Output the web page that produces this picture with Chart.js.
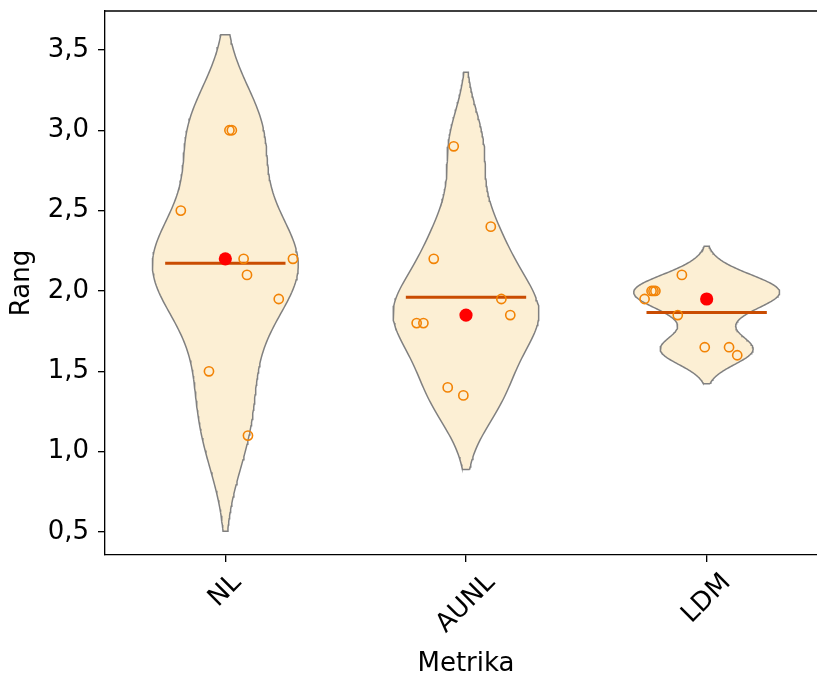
<!DOCTYPE html>
<html>
<head>
<meta charset="utf-8">
<script src="https://cdn.jsdelivr.net/npm/chart.js@4.4.1/dist/chart.umd.min.js"></script>
<style>
  html, body { margin: 0; padding: 0; overflow: hidden; background: #fff; }
  #wrap { width: 817px; height: 677px; overflow: hidden; position: relative; }
  #chart { position: absolute; left: 0; top: 0; }
</style>
</head>
<body>
<div id="wrap"><canvas id="chart" width="837" height="677"></canvas></div>
<script>
// Categories and per-category ranks
const categories = ['NL', 'AUNL', 'LDM'];

const nlValues   = [3.0, 3.0, 2.5, 2.2, 2.2, 2.1, 1.95, 1.5, 1.1];
const aunlValues = [2.9, 2.4, 2.2, 1.95, 1.85, 1.8, 1.8, 1.4, 1.35];
const ldmValues  = [2.1, 2.0, 2.0, 2.0, 1.95, 1.85, 1.65, 1.65, 1.6];

// Horizontal jitter of the individual points (in category units)
const nlJitter   = [0.017, 0.027, -0.185, 0.076, 0.281, 0.090, 0.222, -0.068, 0.094];
const aunlJitter = [-0.051, 0.103, -0.134, 0.147, 0.184, -0.205, -0.177, -0.076, -0.011];
const ldmJitter  = [-0.103, -0.229, -0.221, -0.213, -0.258, -0.120, -0.008, 0.093, 0.127];

const yTicks = [0.5, 1.0, 1.5, 2.0, 2.5, 3.0, 3.5];

const groups = [
  { values: nlValues, jitter: nlJitter },
  { values: aunlValues, jitter: aunlJitter },
  { values: ldmValues, jitter: ldmJitter }
];

// Violin / KDE settings
const BW_FACTOR = 0.475;   // bandwidth as a fraction of the sample std
const CUT = 2;             // extend the density this many bandwidths past the data
const HALF_WIDTH = 0.303;  // widest half-width of each violin
const MEAN_HALF = 0.25;    // half-length of the mean bar

const FONT = 'DejaVu Sans';
const FONT_SIZE = 26;

const mean = v => v.reduce((a, b) => a + b, 0) / v.length;
const median = v => {
  const s = [...v].sort((a, b) => a - b);
  const m = Math.floor(s.length / 2);
  return s.length % 2 ? s[m] : (s[m - 1] + s[m]) / 2;
};

function violinOutline(values, center) {
  const n = values.length;
  const mu = mean(values);
  const sd = Math.sqrt(values.reduce((a, v) => a + (v - mu) ** 2, 0) / (n - 1));
  const bw = BW_FACTOR * sd;
  const lo = Math.min(...values) - CUT * bw;
  const hi = Math.max(...values) + CUT * bw;
  const steps = 160;
  const ys = [], dens = [];
  for (let k = 0; k <= steps; k++) {
    const y = lo + (hi - lo) * k / steps;
    ys.push(y);
    dens.push(values.reduce((s, v) => s + Math.exp(-0.5 * ((y - v) / bw) ** 2), 0));
  }
  const peak = Math.max(...dens);
  const right = ys.map((y, k) => ({ x: center + HALF_WIDTH * dens[k] / peak, y }));
  const left = ys.map((y, k) => ({ x: center - HALF_WIDTH * dens[k] / peak, y })).reverse();
  return [...right, ...left, right[0]];
}

const datasets = [];
const violinIdx = [];

groups.forEach((g, i) => {
  violinIdx.push(datasets.length);
  datasets.push({
    label: categories[i] + ' violin',
    data: violinOutline(g.values, i),
    showLine: true,
    borderColor: '#808080',
    borderWidth: 1.5,
    backgroundColor: '#fcefd4',
    pointRadius: 0,
    pointHitRadius: 0,
    tension: 0,
    order: 4
  });
});

groups.forEach((g, i) => {
  const m = mean(g.values);
  datasets.push({
    label: categories[i] + ' mean',
    data: [{ x: i - MEAN_HALF, y: m }, { x: i + MEAN_HALF, y: m }],
    showLine: true,
    borderColor: '#c94c02',
    borderWidth: 3,
    borderCapStyle: 'butt',
    pointRadius: 0,
    pointHitRadius: 0,
    order: 3
  });
});

groups.forEach((g, i) => {
  datasets.push({
    label: categories[i] + ' points',
    data: g.values.map((v, k) => ({ x: i + g.jitter[k], y: v })),
    pointRadius: 4.6,
    pointBorderWidth: 1.6,
    pointBackgroundColor: 'rgba(0,0,0,0)',
    pointBorderColor: '#f28305',
    borderColor: '#f28305',
    backgroundColor: 'rgba(0,0,0,0)',
    order: 2
  });
});

groups.forEach((g, i) => {
  datasets.push({
    label: categories[i] + ' median',
    data: [{ x: i, y: median(g.values) }],
    pointRadius: 6.6,
    pointBorderWidth: 0,
    pointBackgroundColor: '#ff0000',
    backgroundColor: '#ff0000',
    borderColor: '#ff0000',
    order: 1
  });
});

// Fill the violin bodies beneath their outlines
const violinFill = {
  id: 'violinFill',
  beforeDatasetsDraw(chart) {
    const { ctx, chartArea } = chart;
    ctx.save();
    ctx.beginPath();
    ctx.rect(chartArea.left, chartArea.top, chartArea.right - chartArea.left, chartArea.bottom - chartArea.top);
    ctx.clip();
    violinIdx.forEach(idx => {
      const meta = chart.getDatasetMeta(idx);
      const pts = meta.data;
      if (!pts.length) return;
      ctx.beginPath();
      ctx.moveTo(pts[0].x, pts[0].y);
      for (let k = 1; k < pts.length; k++) ctx.lineTo(pts[k].x, pts[k].y);
      ctx.closePath();
      ctx.fillStyle = chart.data.datasets[idx].backgroundColor;
      ctx.fill();
    });
    ctx.restore();
  }
};

// Top / right spines of the frame
const frame = {
  id: 'frame',
  afterDraw(chart) {
    const { ctx, chartArea } = chart;
    ctx.save();
    ctx.strokeStyle = '#000';
    ctx.lineWidth = 1.33;
    ctx.beginPath();
    ctx.moveTo(chartArea.left, chartArea.top);
    ctx.lineTo(chartArea.right, chartArea.top);
    ctx.lineTo(chartArea.right, chartArea.bottom);
    ctx.stroke();
    ctx.restore();
  }
};

// Category labels rotated 45 degrees, centred under their ticks
const xLabels = {
  id: 'xLabels',
  afterDraw(chart) {
    const { ctx, chartArea } = chart;
    const xs = chart.scales.x;
    ctx.save();
    ctx.font = FONT_SIZE + 'px "' + FONT + '"';
    ctx.fillStyle = '#000';
    ctx.textAlign = 'center';
    ctx.textBaseline = 'middle';
    const lineH = FONT_SIZE * 1.164;
    const top = chartArea.bottom + 13;
    categories.forEach((name, i) => {
      const w = ctx.measureText(name).width;
      const cx = xs.getPixelForValue(i);
      const cy = top + (w + lineH) / (2 * Math.SQRT2);
      ctx.save();
      ctx.translate(cx, cy);
      ctx.rotate(-Math.PI / 4);
      ctx.fillText(name, 0, 0);
      ctx.restore();
    });
    ctx.restore();
  }
};

Chart.defaults.font.family = FONT;
Chart.defaults.color = '#000';

new Chart(document.getElementById('chart'), {
  type: 'scatter',
  data: { datasets },
  options: {
    responsive: false,
    animation: false,
    devicePixelRatio: 1,
    layout: { padding: { top: 11, right: 10, left: 0, bottom: 0 } },
    plugins: { legend: { display: false }, tooltip: { enabled: false } },
    scales: {
      x: {
        type: 'linear',
        min: -0.5,
        max: 2.5,
        afterBuildTicks: s => { s.ticks = categories.map((_, i) => ({ value: i })); },
        ticks: { display: false },
        grid: { display: true, drawOnChartArea: false, drawTicks: true, tickLength: 7, color: '#000', lineWidth: 1.33 },
        border: { display: true, color: '#000', width: 1.33 },
        title: {
          display: true, text: 'Metrika', color: '#000',
          font: { family: FONT, size: FONT_SIZE, lineHeight: 1 },
          padding: { top: 0, bottom: 0 }
        },
        afterFit: s => { s.height = 122; s.paddingLeft = 0; s.paddingRight = 0; }
      },
      y: {
        type: 'linear',
        min: 0.357,
        max: 3.742,
        afterBuildTicks: s => { s.ticks = yTicks.map(v => ({ value: v })); },
        ticks: {
          padding: 9,
          color: '#000',
          font: { family: FONT, size: FONT_SIZE },
          callback: v => v.toFixed(1).replace('.', ',')
        },
        grid: { display: true, drawOnChartArea: false, drawTicks: true, tickLength: 7, color: '#000', lineWidth: 1.33 },
        border: { display: true, color: '#000', width: 1.33 },
        title: {
          display: true, text: 'Rang', color: '#000',
          font: { family: FONT, size: FONT_SIZE, lineHeight: 1 },
          padding: { top: 9, bottom: 0 }
        },
        afterFit: s => { s.width = 105; s.paddingTop = 0; s.paddingBottom = 0; }
      }
    }
  },
  plugins: [violinFill, frame, xLabels]
});
</script>
</body>
</html>
